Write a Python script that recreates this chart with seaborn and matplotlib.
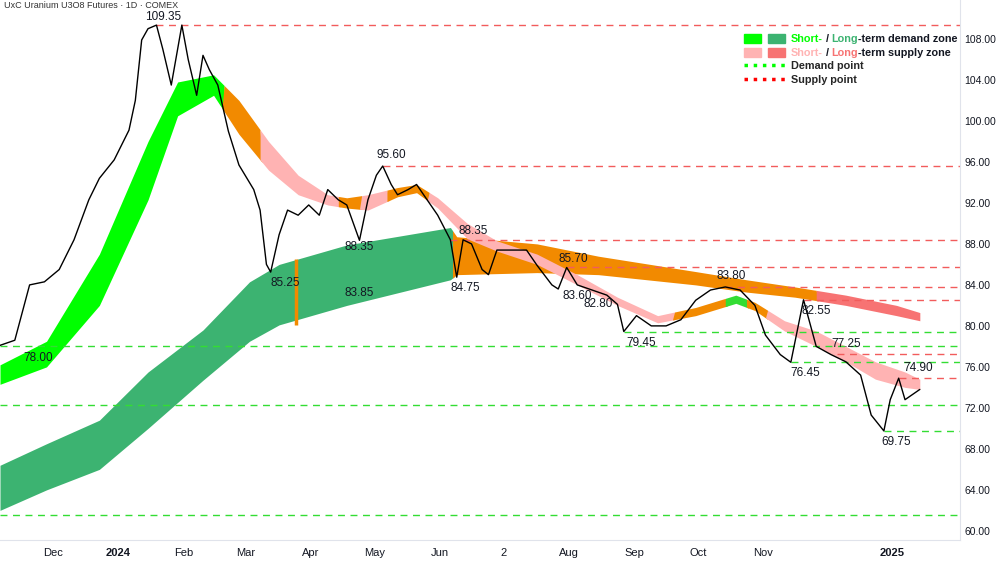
import pandas as pd
import numpy as np
import matplotlib
matplotlib.use("Agg")
import matplotlib.pyplot as plt
import seaborn as sns
from matplotlib.patches import Patch
from matplotlib.lines import Line2D
from matplotlib.legend_handler import HandlerTuple

# daily close
price_dates = ["2023-11-06", "2023-11-13", "2023-11-20", "2023-11-27", "2023-12-04", "2023-12-11",
               "2023-12-18", "2023-12-23", "2023-12-30", "2024-01-06", "2024-01-09", "2024-01-12",
               "2024-01-15", "2024-01-19", "2024-01-22", "2024-01-26", "2024-01-29", "2024-01-31",
               "2024-02-03", "2024-02-07", "2024-02-10", "2024-02-13", "2024-02-17", "2024-02-22",
               "2024-02-27", "2024-03-05", "2024-03-08", "2024-03-11", "2024-03-13", "2024-03-17",
               "2024-03-21", "2024-03-26", "2024-03-31", "2024-04-05", "2024-04-09", "2024-04-14",
               "2024-04-18", "2024-04-24", "2024-04-28", "2024-05-02", "2024-05-05", "2024-05-09",
               "2024-05-12", "2024-05-17", "2024-05-21", "2024-05-26", "2024-05-31", "2024-06-06",
               "2024-06-09", "2024-06-12", "2024-06-16", "2024-06-21", "2024-06-24", "2024-06-28",
               "2024-07-05", "2024-07-12", "2024-07-17", "2024-07-24", "2024-07-27", "2024-07-31",
               "2024-08-05", "2024-08-12", "2024-08-19", "2024-08-24", "2024-08-27", "2024-09-02",
               "2024-09-09", "2024-09-16", "2024-09-23", "2024-09-30", "2024-10-07", "2024-10-14",
               "2024-10-21", "2024-10-28", "2024-11-02", "2024-11-09", "2024-11-14", "2024-11-20",
               "2024-11-26", "2024-12-03", "2024-12-10", "2024-12-17", "2024-12-22", "2024-12-28",
               "2024-12-31", "2025-01-04", "2025-01-07", "2025-01-14"]
price = [78.1, 78.6, 84.0, 84.3, 85.5, 88.4, 92.3, 94.4, 96.2, 99.1, 102.0, 107.9,
         109.0, 109.35, 107.0, 103.5, 107.0, 109.35, 106.0, 102.5, 106.4, 105.0, 103.5, 99.0,
         95.7, 93.3, 91.3, 86.0, 85.25, 88.9, 91.3, 90.8, 91.8, 90.8, 93.3, 92.3,
         91.8, 88.35, 92.3, 94.7, 95.6, 93.8, 92.8, 93.3, 93.8, 92.3, 90.8, 88.4,
         84.75, 88.4, 88.0, 85.5, 85.0, 87.4, 87.4, 87.4, 85.9, 84.0, 83.6, 85.7,
         84.0, 83.5, 83.0, 82.1, 79.45, 81.0, 80.0, 80.0, 80.6, 82.5, 83.5, 83.8,
         83.5, 82.0, 79.1, 77.2, 76.45, 82.55, 78.0, 77.2, 76.5, 75.2, 71.3, 69.75,
         72.8, 74.9, 72.8, 73.8]

# short-term zone
st_dates = ["2023-11-06", "2023-11-28", "2023-12-23", "2024-01-15", "2024-01-29", "2024-02-15",
            "2024-02-27", "2024-03-12", "2024-03-26", "2024-04-09", "2024-04-18", "2024-04-28",
            "2024-05-12", "2024-05-21", "2024-05-31", "2024-06-14", "2024-06-28", "2024-07-17",
            "2024-08-05", "2024-08-24", "2024-09-12", "2024-09-30", "2024-10-19", "2024-10-28",
            "2024-11-11", "2024-11-26", "2024-12-10", "2024-12-24", "2025-01-07", "2025-01-14"]
st_low = [74.3, 76.0, 82.0, 92.3, 100.5, 102.5, 98.7, 95.2, 92.8, 91.8, 91.5, 91.3,
          92.6, 93.0, 91.5, 88.5, 87.3, 86.0, 84.0, 82.0, 80.3, 81.0, 82.2, 81.5,
          79.5, 78.0, 76.5, 74.8, 74.0, 73.8]
st_high = [76.2, 78.5, 87.0, 98.0, 103.8, 104.5, 102.0, 98.0, 94.7, 92.8, 92.5, 92.8,
           93.5, 93.8, 92.5, 90.0, 88.3, 87.0, 85.0, 82.8, 81.0, 81.8, 83.0, 82.3,
           80.5, 79.5, 78.0, 76.5, 75.5, 74.8]
st_zones = [("2023-11-01", "2024-02-20", "#00ff00"), ("2024-02-20", "2024-03-08", "#f28a00"),
            ("2024-03-08", "2024-04-14", "#ffb3b3"), ("2024-04-14", "2024-04-25", "#f28a00"),
            ("2024-04-25", "2024-05-07", "#ffb3b3"), ("2024-05-07", "2024-05-27", "#f28a00"),
            ("2024-05-27", "2024-09-20", "#ffb3b3"), ("2024-09-20", "2024-10-14", "#f28a00"),
            ("2024-10-14", "2024-10-24", "#33dd33"), ("2024-10-24", "2024-11-03", "#f28a00"),
            ("2024-11-03", "2025-02-01", "#ffb3b3")]

# long-term zone
lt_dates = ["2023-11-06", "2023-11-28", "2023-12-23", "2024-01-15", "2024-02-10", "2024-03-03",
            "2024-03-17", "2024-04-18", "2024-06-06", "2024-06-09", "2024-07-17", "2024-08-15",
            "2024-09-30", "2024-10-24", "2024-11-16", "2024-12-10", "2025-01-03", "2025-01-14"]
lt_low = [62.0, 64.0, 66.0, 70.0, 74.7, 78.5, 80.1, 82.0, 84.5, 85.0, 85.2, 85.0,
          84.0, 83.3, 82.8, 82.0, 81.0, 80.5]
lt_high = [66.4, 68.5, 70.8, 75.5, 79.6, 84.3, 86.0, 87.9, 89.6, 88.7, 88.0, 86.8,
           85.3, 84.5, 83.8, 83.0, 82.0, 81.3]
lt_zones = [("2023-11-01", "2024-06-07", "#3cb371"), ("2024-06-07", "2024-11-26", "#f28a00"),
            ("2024-11-26", "2025-02-01", "#f77373")]

# point levels: (start date, value)
supply_pts = [("2024-01-19", 109.35), ("2024-05-05", 95.6), ("2024-06-06", 88.35),
              ("2024-07-31", 85.7), ("2024-10-14", 83.8), ("2024-11-20", 82.55),
              ("2024-12-06", 77.25), ("2025-01-04", 74.9)]
demand_pts = [("2023-11-06", 78.0), ("2023-11-06", 72.3), ("2023-11-06", 61.5),
              ("2024-08-27", 79.45), ("2024-11-14", 76.45), ("2024-12-28", 69.75)]

labels = [("2024-01-22", 109.35, "109.35", 6), ("2023-11-24", 78.0, "78.00", -8),
          ("2024-03-20", 85.25, "85.25", -8), ("2024-04-24", 88.35, "88.35", -5),
          ("2024-04-24", 83.85, "83.85", -5), ("2024-05-09", 95.6, "95.60", 8),
          ("2024-06-17", 88.35, "88.35", 7), ("2024-06-13", 84.75, "84.75", -8),
          ("2024-08-03", 85.7, "85.70", 6), ("2024-08-05", 83.6, "83.60", -5),
          ("2024-08-15", 82.8, "82.80", -5), ("2024-09-04", 79.45, "79.45", -8),
          ("2024-10-17", 83.8, "83.80", 8), ("2024-11-26", 82.55, "82.55", -8),
          ("2024-12-10", 77.25, "77.25", 7), ("2024-11-21", 76.45, "76.45", -8),
          ("2025-01-13", 74.9, "74.90", 7), ("2025-01-03", 69.75, "69.75", -8)]

px = pd.DataFrame({"date": pd.to_datetime(price_dates), "price": price})
st = pd.DataFrame({"date": pd.to_datetime(st_dates), "lo": st_low, "hi": st_high})
lt = pd.DataFrame({"date": pd.to_datetime(lt_dates), "lo": lt_low, "hi": lt_high})

sns.set_style("white")
plt.rcParams["font.family"] = ["Liberation Sans", "DejaVu Sans"]
fig = plt.figure(figsize=(10, 5.62), dpi=100)
ax = fig.add_axes([0, 0.039, 0.96, 0.961])


def band(df, zones):
    # daily interpolation so colour segments join cleanly
    days = pd.date_range(df.date.min(), df.date.max(), freq="D")
    t = days.values.astype("int64")
    lo = np.interp(t, df.date.values.astype("int64"), df.lo)
    hi = np.interp(t, df.date.values.astype("int64"), df.hi)
    for a, b, c in zones:
        m = (days >= pd.Timestamp(a)) & (days <= pd.Timestamp(b))
        ax.fill_between(days, lo, hi, where=m, color=c, lw=0, interpolate=True)


band(lt, lt_zones)
band(st, st_zones)
ax.vlines(pd.Timestamp("2024-03-25"), 80.1, 86.5, color="#f28a00", lw=2.5)

xend = pd.Timestamp("2025-02-02")
for d, v in supply_pts:
    ax.hlines(v, pd.Timestamp(d), xend, color="#f25c5c", ls=(0, (5, 4)), lw=1)
for d, v in demand_pts:
    ax.hlines(v, pd.Timestamp(d), xend, color="#33dd33", ls=(0, (5, 4)), lw=1)

sns.lineplot(data=px, x="date", y="price", color="black", lw=1, ax=ax)

for d, v, s, off in labels:
    ax.annotate(s, (pd.Timestamp(d), v), xytext=(0, off), textcoords="offset points",
                ha="center", va="center", fontsize=8.5, color="#131722")

ax.set_xlim(pd.Timestamp("2023-11-06"), xend)
ax.set_ylim(59.1, 111.8)
ax.yaxis.tick_right()
yt = np.arange(60, 109, 4)
ax.set_yticks(yt)
ax.set_yticklabels([f"{v:.2f}" for v in yt], fontsize=7.5, color="#131722")
xt = ["2023-12-01", "2024-01-01", "2024-02-01", "2024-03-01", "2024-04-01", "2024-05-01",
      "2024-06-01", "2024-07-01", "2024-08-01", "2024-09-01", "2024-10-01", "2024-11-01",
      "2025-01-01"]
xl = ["Dec", "2024", "Feb", "Mar", "Apr", "May", "Jun", "2", "Aug", "Sep", "Oct", "Nov", "2025"]
ax.set_xticks(pd.to_datetime(xt))
ax.set_xticklabels(xl, fontsize=8, color="#131722")
for t in ax.get_xticklabels():
    if t.get_text() in ("2024", "2025"):
        t.set_fontweight("bold")
ax.tick_params(axis="x", length=0, pad=6)
ax.tick_params(axis="y", length=0, pad=3)
ax.set_xlabel("")
ax.set_ylabel("")
for s in ["top", "left"]:
    ax.spines[s].set_visible(False)
ax.spines["right"].set_color("#e0e3eb")
ax.spines["bottom"].set_color("#e0e3eb")

fig.text(0.004, 0.99, "UxC Uranium U3O8 Futures · 1D · COMEX", fontsize=6.5, color="#333",
         va="center")

handles = [(Patch(color="#00ff00"), Patch(color="#3cb371")),
           (Patch(color="#ffb3b3"), Patch(color="#f77373")),
           Line2D([], [], color="#00ff00", ls=":", lw=2.5),
           Line2D([], [], color="#ff0000", ls=":", lw=2.5)]
leg = ax.legend(handles, ["x", "x", "Demand point", "Supply point"],
                handler_map={tuple: HandlerTuple(ndivide=None, pad=0.6)},
                loc="upper left", bbox_to_anchor=(0.765, 0.955), frameon=False,
                handlelength=3.8, handleheight=0.9, labelspacing=0.3, handletextpad=0.5,
                prop={"weight": "bold", "size": 7.8})
fig.canvas.draw()
texts = leg.get_texts()
for i, (c1, c2, tail) in enumerate([("#00ff00", "#3cb371", "demand"),
                                    ("#ffb3b3", "#f77373", "supply")]):
    texts[i].set_alpha(0)
    bb = texts[i].get_window_extent().transformed(fig.transFigure.inverted())
    x0, y0 = bb.x0, (bb.y0 + bb.y1) / 2
    w = x0
    for s, c in [("Short-", c1), (" / ", "#131722"), ("Long", c2),
                 (f"-term {tail} zone", "#131722")]:
        t = fig.text(w, y0, s, color=c, fontsize=7.8, weight="bold", va="center")
        fig.canvas.draw()
        w = t.get_window_extent().transformed(fig.transFigure.inverted()).x1

fig.savefig("out.png", dpi=100)
